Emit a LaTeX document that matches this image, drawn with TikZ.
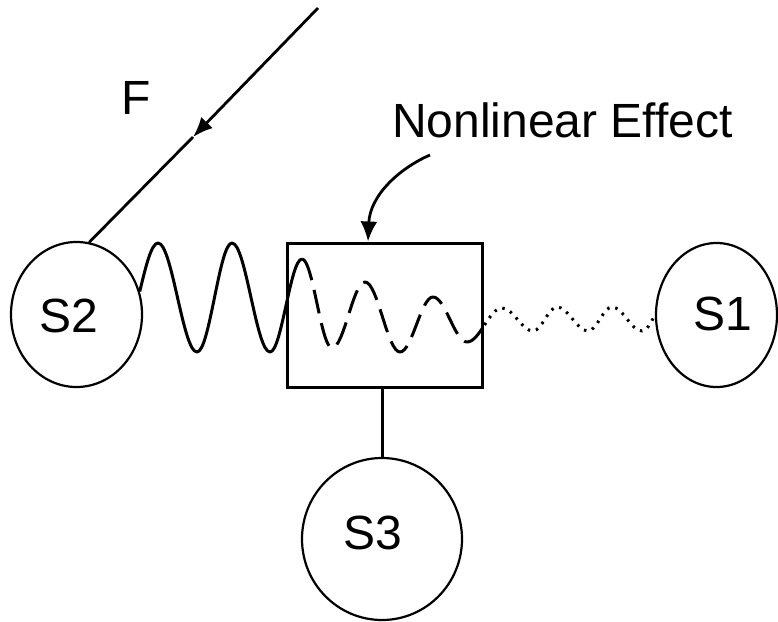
\documentclass[tikz,border=0pt]{standalone}
\usepackage{fontspec}
\setmainfont{Liberation Sans}
\usetikzlibrary{arrows.meta, shapes.geometric}

\begin{document}
\begin{tikzpicture}[x=1pt, y=-1pt, line width=2.8pt,
  font=\fontsize{48}{56}\selectfont,
  mass/.style={draw, ellipse, line width=2.2pt, inner sep=0pt},
  spring/.style={line width=3pt, line join=round}]
\useasboundingbox (0,0) rectangle (778,621);

% ---- masses and the coupling box ----
\node[mass, minimum width=131pt, minimum height=145pt,
  label={[xshift=-7.5pt, yshift=-1pt]center:S2}] (s2) at (76.5,314.5) {};
\node[mass, minimum width=121pt, minimum height=144pt,
  label={[xshift=6pt, yshift=1.5pt]center:S1}] (s1) at (716.5,315) {};
\node[mass, minimum width=160pt, minimum height=162pt,
  label={[xshift=-9.5pt, yshift=6.5pt]center:S3}] (s3) at (382,539) {};
\node[draw, line width=3pt, minimum width=195pt, minimum height=144pt,
  inner sep=0pt] (box) at (384.5,315) {};
\draw[line width=3pt] (s3.north |- box.south) -- (s3.north);

% ---- spring: solid, dashed, dotted ----
\draw[spring] (s2.20) sin (158,243) cos (177.5,297.5) sin (197,352)
  cos (214.5,297.5) sin (232,243) cos (251,297.5) sin (270,352)
  cos (286,305.5) sin (302,259);
\draw[spring, dash pattern=on 24pt off 10pt] (302,259) cos (317,303.5)
  sin (332,348) cos (348.5,315) sin (365,282) cos (382.5,317) sin (400,352)
  cos (416.5,324.5) sin (433,297) cos (450,319.5) sin (467,342)
  cos (484.5,325);
\draw[spring, dash pattern=on 2.5pt off 6pt] (484.5,325) sin (502,308)
  cos (517.5,319.5) sin (533,331) cos (545,319) sin (557,307)
  cos (572.5,319) sin (588,331) cos (600,319) sin (612,307)
  cos (627,319) sin (642,331) cos (s1.west);

% ---- force F ----
\coordinate (ftop) at (318,8);
\coordinate (ftip) at (193,137);
\draw[-{Latex[length=20pt, width=16pt]}] (ftop) -- (ftip);
\draw (ftip) -- (s2.80);
\node (flabel) at (136,98) {F};

% ---- label of the box ----
\node (nl) at (562.5,120) {Nonlinear Effect};
\coordinate (nlfoot) at (430,155);
\draw[-{Latex[length=20pt, width=17pt]}] (nlfoot)
  .. controls (400,168) and (370,195) .. ([xshift=-16.5pt]box.north);
\end{tikzpicture}
\end{document}
